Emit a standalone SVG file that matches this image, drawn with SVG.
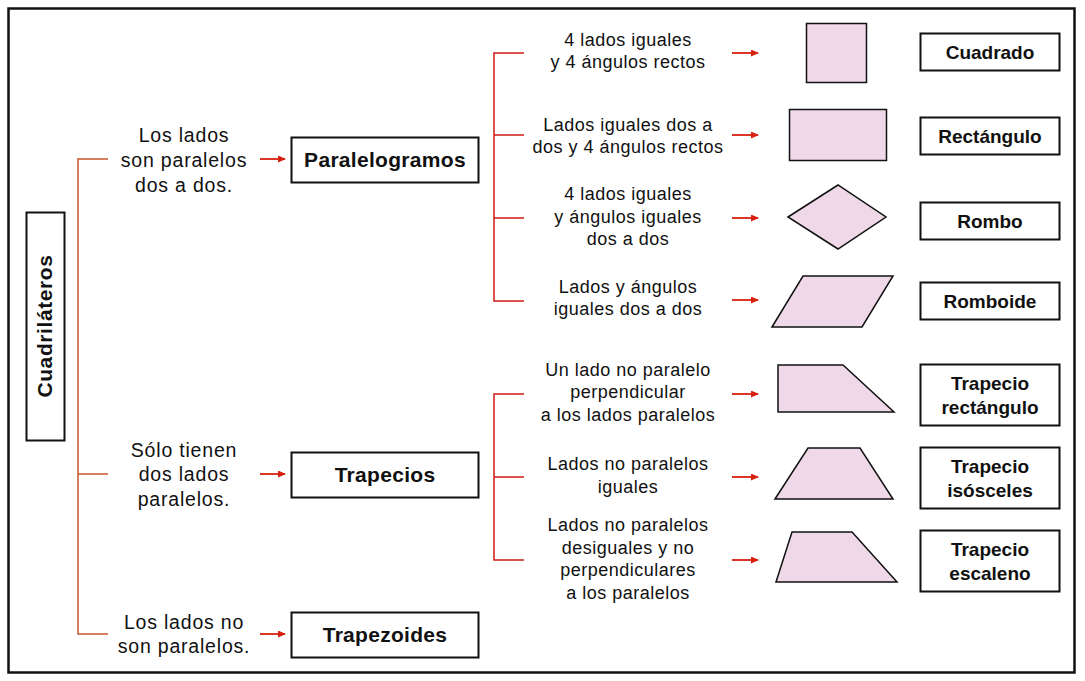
<svg xmlns="http://www.w3.org/2000/svg" width="1085" height="681" viewBox="0 0 1085 681">
<defs>
<marker id="ah" markerWidth="8" markerHeight="7" refX="7" refY="3.5" orient="auto" markerUnits="userSpaceOnUse">
<path d="M0,0 L8,3.5 L0,7 Z" fill="#d8200f"/>
</marker>
<style>
.t{font-family:"Liberation Sans",Arial,sans-serif;font-size:19.5px;fill:#111;text-anchor:middle;letter-spacing:0.8px}
.s{font-family:"Liberation Sans",Arial,sans-serif;font-size:18px;fill:#111;text-anchor:middle;letter-spacing:0.5px}
.b{font-family:"Liberation Sans",Arial,sans-serif;font-size:21px;font-weight:bold;fill:#111;text-anchor:middle;letter-spacing:0.3px}
.l{font-family:"Liberation Sans",Arial,sans-serif;font-size:19px;font-weight:bold;fill:#111;text-anchor:middle}
.box{fill:#fff;stroke:#111;stroke-width:2}
.shape{fill:#efd9e8;stroke:#111;stroke-width:1.5;stroke-linejoin:miter}
.br{fill:none;stroke:#cc1a14;stroke-width:1.5}
.bl{fill:none;stroke:#c8582c;stroke-width:1.5}
.ar{stroke:#d8200f;stroke-width:1.8;marker-end:url(#ah)}
</style>
</defs>
<rect x="0" y="0" width="1085" height="681" fill="#fff"/>
<rect x="8.5" y="8.5" width="1066" height="664" fill="none" stroke="#111" stroke-width="2.5"/>

<g id="connectors">
<path class="bl" d="M108,159 H78 V634 H108 M78,474 H108"/>
<path class="br" d="M524,53 H494 V301 H524 M494,135 H524 M494,218 H524"/>
<path class="br" d="M524,394 H494 V560 H524 M494,477 H524"/>
<line class="ar" x1="260" y1="159" x2="285" y2="159"/>
<line class="ar" x1="260" y1="474" x2="285" y2="474"/>
<line class="ar" x1="260" y1="634" x2="285" y2="634"/>
<line class="ar" x1="732" y1="53" x2="758" y2="53"/>
<line class="ar" x1="732" y1="135" x2="758" y2="135"/>
<line class="ar" x1="732" y1="218" x2="758" y2="218"/>
<line class="ar" x1="732" y1="300" x2="758" y2="300"/>
<line class="ar" x1="732" y1="394" x2="758" y2="394"/>
<line class="ar" x1="732" y1="477" x2="758" y2="477"/>
<line class="ar" x1="732" y1="560" x2="758" y2="560"/>
</g>

<g id="cuadrilateros">
<rect class="box" x="26.5" y="212.5" width="38" height="228"/>
<text class="b" transform="translate(52,326) rotate(-90)" style="letter-spacing:0.6px">Cuadriláteros</text>
</g>

<g id="cond-paralelogramos">
<text class="t" x="184" y="142">Los lados</text>
<text class="t" x="184" y="167">son paralelos</text>
<text class="t" x="184" y="192">dos a dos.</text>
</g>
<g id="cond-trapecios">
<text class="t" x="184" y="457">Sólo tienen</text>
<text class="t" x="184" y="481">dos lados</text>
<text class="t" x="184" y="506">paralelos.</text>
</g>
<g id="cond-trapezoides">
<text class="t" x="184" y="629">Los lados no</text>
<text class="t" x="184" y="653">son paralelos.</text>
</g>

<g id="paralelogramos">
<rect class="box" x="291.5" y="137.5" width="187" height="45"/>
<text class="b" x="385" y="167">Paralelogramos</text>
</g>
<g id="trapecios">
<rect class="box" x="291.5" y="452.5" width="187" height="45"/>
<text class="b" x="385" y="482">Trapecios</text>
</g>
<g id="trapezoides">
<rect class="box" x="291.5" y="612.5" width="187" height="45"/>
<text class="b" x="385" y="642">Trapezoides</text>
</g>

<g id="prop-cuadrado">
<text class="s" x="628" y="46">4 lados iguales</text>
<text class="s" x="628" y="68">y 4 ángulos rectos</text>
</g>
<g id="prop-rectangulo">
<text class="s" x="628" y="131">Lados iguales dos a</text>
<text class="s" x="628" y="153">dos y 4 ángulos rectos</text>
</g>
<g id="prop-rombo">
<text class="s" x="628" y="200">4 lados iguales</text>
<text class="s" x="628" y="223">y ángulos iguales</text>
<text class="s" x="628" y="245">dos a dos</text>
</g>
<g id="prop-romboide">
<text class="s" x="628" y="293">Lados y ángulos</text>
<text class="s" x="628" y="315">iguales dos a dos</text>
</g>
<g id="prop-trap-rect">
<text class="s" x="628" y="376">Un lado no paralelo</text>
<text class="s" x="628" y="398">perpendicular</text>
<text class="s" x="628" y="421">a los lados paralelos</text>
</g>
<g id="prop-trap-isos">
<text class="s" x="628" y="470">Lados no paralelos</text>
<text class="s" x="628" y="493">iguales</text>
</g>
<g id="prop-trap-esc">
<text class="s" x="628" y="531">Lados no paralelos</text>
<text class="s" x="628" y="554">desiguales y no</text>
<text class="s" x="628" y="576">perpendiculares</text>
<text class="s" x="628" y="599">a los paralelos</text>
</g>

<g id="fig-cuadrado"><rect class="shape" x="806.5" y="23.5" width="60" height="59"/></g>
<g id="fig-rectangulo"><rect class="shape" x="789.5" y="109.5" width="97" height="51"/></g>
<g id="fig-rombo"><polygon class="shape" points="788,217 838,185 886,217 838,249"/></g>
<g id="fig-romboide"><polygon class="shape" points="772,327 803,276 893,276 862,327"/></g>
<g id="fig-trap-rect"><polygon class="shape" points="778,365 843,365 894,412 778,412"/></g>
<g id="fig-trap-isos"><polygon class="shape" points="775,499 808,448 860,448 893,499"/></g>
<g id="fig-trap-esc"><polygon class="shape" points="776,582 792,532 852,532 897,582"/></g>

<g id="cuadrado">
<rect class="box" x="920.5" y="33.5" width="139" height="37"/>
<text class="l" x="990" y="59">Cuadrado</text>
</g>
<g id="rectangulo">
<rect class="box" x="920.5" y="117.5" width="139" height="37"/>
<text class="l" x="990" y="143">Rectángulo</text>
</g>
<g id="rombo">
<rect class="box" x="920.5" y="202.5" width="139" height="37"/>
<text class="l" x="990" y="228">Rombo</text>
</g>
<g id="romboide">
<rect class="box" x="920.5" y="282.5" width="139" height="37"/>
<text class="l" x="990" y="308">Romboide</text>
</g>
<g id="trapecio-rectangulo">
<rect class="box" x="920.5" y="364.5" width="139" height="61"/>
<text class="l" x="990" y="390">Trapecio</text>
<text class="l" x="990" y="414">rectángulo</text>
</g>
<g id="trapecio-isosceles">
<rect class="box" x="920.5" y="447.5" width="139" height="61"/>
<text class="l" x="990" y="473">Trapecio</text>
<text class="l" x="990" y="497">isósceles</text>
</g>
<g id="trapecio-escaleno">
<rect class="box" x="920.5" y="530.5" width="139" height="61"/>
<text class="l" x="990" y="556">Trapecio</text>
<text class="l" x="990" y="580">escaleno</text>
</g>
</svg>
